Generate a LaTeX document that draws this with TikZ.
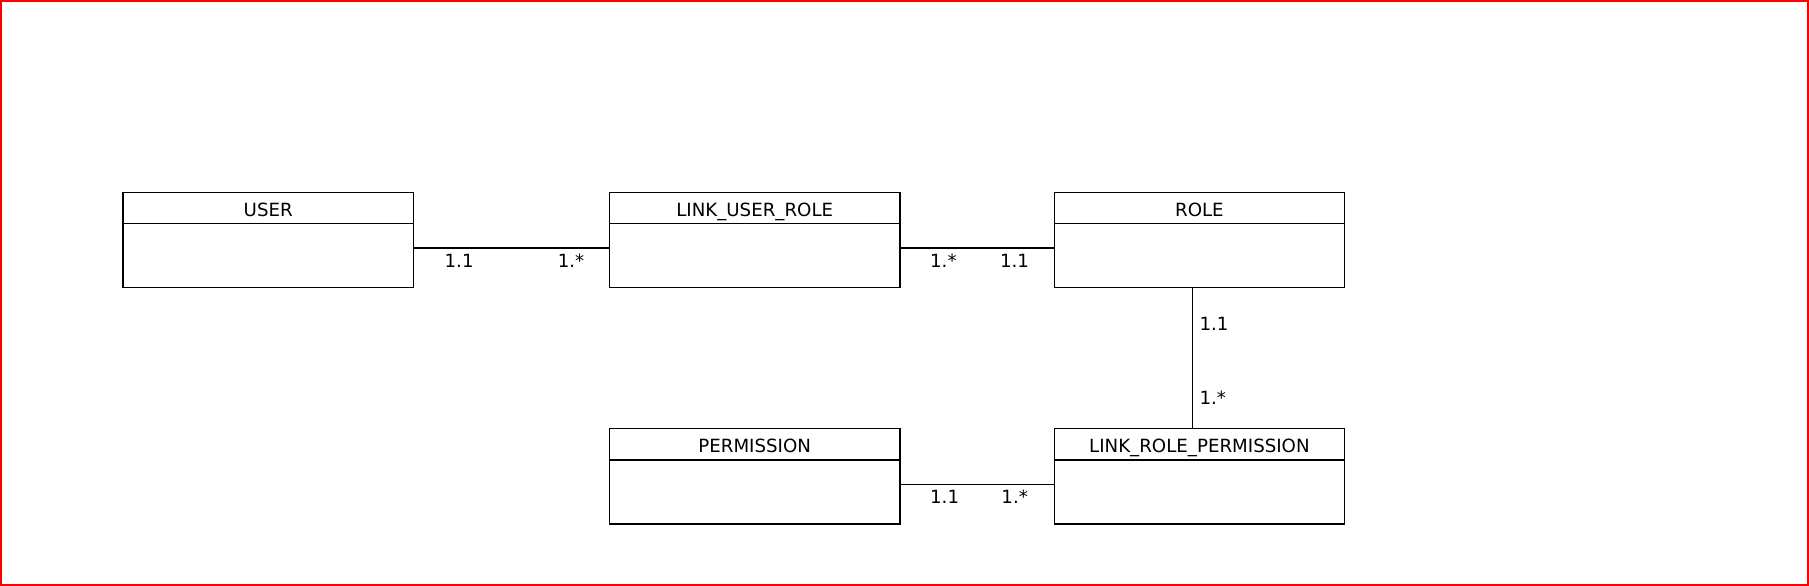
\documentclass[tikz,border=0pt]{standalone}
\usepackage{fontspec}
\setmainfont{DejaVu Sans}
\usetikzlibrary{positioning}

\tikzset{
  entity/.style={draw, line width=1.2pt, minimum width=290.5pt, minimum height=95.5pt, inner sep=0pt},
  head/.style={draw, line width=1.2pt, minimum width=290.5pt, minimum height=31.5pt, inner sep=0pt,
    text height=16.3pt, text depth=0pt, anchor=north, font=\fontsize{18.2}{20}\selectfont},
  card/.style={inner sep=0pt, font=\fontsize{18.2}{20}\selectfont}
}

\begin{document}
\begin{tikzpicture}[x=1pt, y=-1pt, line width=1.2pt]
	\useasboundingbox (0,0) rectangle (1809,586);
	\draw [red, line width=2pt] (1,1) rectangle (1808,585);
	
	\node [entity] (user) at (268.2,240) {};
	\node [entity] (lur)  at (754.7,240) {};
	\node [entity] (role) at (1199.4,240) {};
	\node [entity] (perm) at (754.7,476.3) {};
	\node [entity] (lrp)  at (1199.4,476.3) {};
	
	\node [head] (user-h) at (user.north) {USER};
	\node [head] (lur-h)  at (lur.north)  {LINK\_USER\_ROLE};
	\node [head] (role-h) at (role.north) {ROLE};
	\node [head] (perm-h) at (perm.north) {PERMISSION};
	\node [head] (lrp-h)  at (lrp.north)  {LINK\_ROLE\_PERMISSION};
	
	\draw ([yshift=-8pt]user.east) -- ([yshift=-8pt]lur.west)
		node [pos=0, card, below right=5.5pt and 30pt] {1.1}
		node [pos=1, card, below left=5.5pt and 24pt] {1.*};
	\draw ([yshift=-8pt]lur.east) -- ([yshift=-8pt]role.west)
		node [pos=0, card, below right=5.5pt and 29pt] {1.*}
		node [pos=1, card, below left=5.5pt and 24pt] {1.1};
	\draw ([xshift=-6.7pt]role.south) -- ([xshift=-6.7pt]lrp.north)
		node [pos=0, card, below right=28pt and 6.3pt] {1.1}
		node [pos=1, card, above right=22.5pt and 6.3pt] {1.*};
	\draw ([yshift=-8pt]perm.east) -- ([yshift=-8pt]lrp.west)
		node [pos=0, card, below right=5.5pt and 29pt] {1.1}
		node [pos=1, card, below left=5.5pt and 25pt] {1.*};
\end{tikzpicture}
\end{document}
